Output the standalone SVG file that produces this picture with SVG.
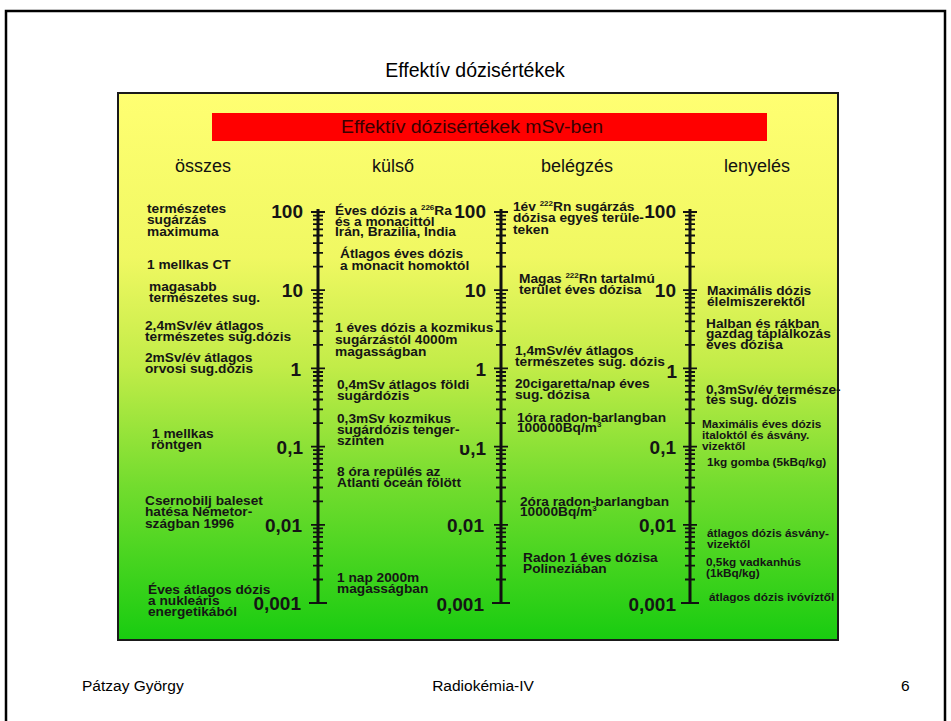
<svg xmlns="http://www.w3.org/2000/svg" xmlns:xlink="http://www.w3.org/1999/xlink" width="951" height="721" viewBox="0 0 951 721">
<style>
.t{font-family:"Liberation Sans",Arial,sans-serif;font-weight:bold;font-size:13.7px;fill:#151515}
.s{font-size:11.8px}
.n{font-family:"Liberation Sans",Arial,sans-serif;font-weight:bold;font-size:19px;fill:#151515;text-anchor:end}
.h{font-family:"Liberation Sans",Arial,sans-serif;font-size:18px;fill:#111;text-anchor:middle}
.f{font-family:"Liberation Sans",Arial,sans-serif;font-size:15.5px;fill:#000}
.sup{font-size:8px}
.ax{fill:none;stroke:#111;stroke-width:3}
.tk{fill:none;stroke:#111;stroke-width:1.8}
</style>
<defs>
<linearGradient id="bg" x1="0" y1="0" x2="0" y2="1">
<stop offset="0" stop-color="#ffff72"/>
<stop offset="0.3" stop-color="#f0f862"/>
<stop offset="0.5" stop-color="#c2ec48"/>
<stop offset="0.72" stop-color="#72dc2e"/>
<stop offset="1" stop-color="#18cc10"/>
</linearGradient>
<g id="scale">
<path class="ax" d="M0 209V603"/>
<path class="tk" d="M-7 212h14M-7 290.2h14M-7 368.4h14M-7 446.6h14M-7 524.8h14M-9 603h18"/>
<path class="tk" d="M-5 215.6h10M-5 219.6h10M-5 224.1h10M-5 229.4h10M-5 235.5h10M-5 243.1h10M-5 252.9h10M-5 266.7h10M-5 293.8h10M-5 297.8h10M-5 302.3h10M-5 307.6h10M-5 313.7h10M-5 321.3h10M-5 331.1h10M-5 344.9h10M-5 372h10M-5 376h10M-5 380.5h10M-5 385.8h10M-5 391.9h10M-5 399.5h10M-5 409.3h10M-5 423.1h10M-5 450.2h10M-5 454.2h10M-5 458.7h10M-5 464h10M-5 470.1h10M-5 477.7h10M-5 487.5h10M-5 501.3h10M-5 528.4h10M-5 532.4h10M-5 536.9h10M-5 542.2h10M-5 548.3h10M-5 555.9h10M-5 565.7h10M-5 579.5h10"/>
</g>
</defs>
<rect x="0" y="0" width="951" height="721" fill="#fff"/>
<rect id="frame" x="6" y="11" width="939" height="730" fill="none" stroke="#000" stroke-width="2.5"/>
<text id="title" class="f" x="475" y="77" text-anchor="middle" style="font-size:19.5px">Effektív dózisértékek</text>
<g id="chart">
<rect x="118" y="93" width="720" height="547" fill="url(#bg)" stroke="#1a1a1a" stroke-width="2"/>
<rect x="212" y="113" width="555" height="28" fill="#ff0000"/>
<text class="h" x="472" y="133" style="fill:#3a0000;font-size:18px" textLength="262" lengthAdjust="spacingAndGlyphs">Effektív dózisértékek mSv-ben</text>
<text class="h" x="203" y="172">összes</text>
<text class="h" x="393" y="172">külső</text>
<text class="h" x="577" y="172">belégzés</text>
<text class="h" x="757" y="172">lenyelés</text>
</g>
<g id="connectors">
<use xlink:href="#scale" href="#scale" x="318"/>
<use xlink:href="#scale" href="#scale" x="501"/>
<use xlink:href="#scale" href="#scale" x="690"/>
</g>
<g id="scale-labels">
<text class="n" x="303" y="218">100</text><text class="n" x="303" y="297">10</text><text class="n" x="301" y="376">1</text><text class="n" x="303" y="454">0,1</text><text class="n" x="302" y="532">0,01</text><text class="n" x="301" y="610">0,001</text>
<text class="n" x="486" y="218">100</text><text class="n" x="486" y="297">10</text><text class="n" x="486" y="376">1</text><text class="n" x="486" y="455">υ,1</text><text class="n" x="484" y="532">0,01</text><text class="n" x="484" y="611">0,001</text>
<text class="n" x="676" y="218">100</text><text class="n" x="676" y="297">10</text><text class="n" x="677" y="378">1</text><text class="n" x="676" y="454">0,1</text><text class="n" x="676" y="532">0,01</text><text class="n" x="676" y="611">0,001</text>
</g>
<g id="n1"><text class="t"><tspan x="147" y="212.5">természetes</tspan><tspan x="147" y="224">sugárzás</tspan><tspan x="147" y="235.5">maximuma</tspan></text></g>
<g id="n2"><text class="t" x="147" y="268.5">1 mellkas CT</text></g>
<g id="n3"><text class="t"><tspan x="149" y="290.5">magasabb</tspan><tspan x="149" y="301.5">természetes sug.</tspan></text></g>
<g id="n4"><text class="t"><tspan x="145" y="329.5">2,4mSv/év átlagos</tspan><tspan x="145" y="340.5">természetes sug.dózis</tspan></text></g>
<g id="n5"><text class="t"><tspan x="145" y="361.5">2mSv/év átlagos</tspan><tspan x="145" y="372.5">orvosi sug.dózis</tspan></text></g>
<g id="n6"><text class="t"><tspan x="152" y="437.5">1 mellkas</tspan><tspan x="151" y="448.5">röntgen</tspan></text></g>
<g id="n7"><text class="t"><tspan x="145" y="504.5">Csernobilj baleset</tspan><tspan x="145" y="516">hatésa Németor-</tspan><tspan x="145" y="527.5">szágban 1996</tspan></text></g>
<g id="n8"><text class="t"><tspan x="148" y="593.5">Éves átlagos dózis</tspan><tspan x="148" y="604.5">a nukleáris</tspan><tspan x="148" y="615.5">energetikából</tspan></text></g>
<g id="n9"><text class="t"><tspan x="335" y="214.5">Éves dózis a <tspan class="sup" dy="-5">226</tspan><tspan dy="5">Ra</tspan></tspan><tspan x="335" y="225.5">és a monacittól</tspan><tspan x="335" y="236">Irán, Brazilia, India</tspan></text></g>
<g id="n10"><text class="t"><tspan x="340" y="257.5">Átlagos éves dózis</tspan><tspan x="340" y="269.5">a monacit homoktól</tspan></text></g>
<g id="n11"><text class="t"><tspan x="335" y="331.5">1 éves dózis a kozmikus</tspan><tspan x="335" y="344">sugárzástól 4000m</tspan><tspan x="335" y="356">magasságban</tspan></text></g>
<g id="n12"><text class="t"><tspan x="337" y="388.5">0,4mSv átlagos földi</tspan><tspan x="337" y="399.5">sugárdózis</tspan></text></g>
<g id="n13"><text class="t"><tspan x="337" y="422.5">0,3mSv kozmikus</tspan><tspan x="337" y="433.5">sugárdózis tenger-</tspan><tspan x="337" y="445">szinten</tspan></text></g>
<g id="n14"><text class="t"><tspan x="337" y="475.5">8 óra repülés az</tspan><tspan x="337" y="486.5">Atlanti óceán fölött</tspan></text></g>
<g id="n15"><text class="t"><tspan x="337" y="582">1 nap 2000m</tspan><tspan x="337" y="592.5">magasságban</tspan></text></g>
<g id="n16"><text class="t"><tspan x="513" y="210.5">1év <tspan class="sup" dy="-5">222</tspan><tspan dy="5">Rn sugárzás</tspan></tspan><tspan x="513" y="222">dózisa egyes terüle-</tspan><tspan x="513" y="233.5">teken</tspan></text></g>
<g id="n17"><text class="t"><tspan x="519" y="282.5">Magas <tspan class="sup" dy="-5">222</tspan><tspan dy="5">Rn tartalmú</tspan></tspan><tspan x="519" y="293.5">terület éves dózisa</tspan></text></g>
<g id="n18"><text class="t"><tspan x="515" y="354.5">1,4mSv/év átlagos</tspan><tspan x="515" y="366">természetes sug. dózis</tspan></text></g>
<g id="n19"><text class="t"><tspan x="515" y="387.5">20cigaretta/nap éves</tspan><tspan x="515" y="398.5">sug. dózisa</tspan></text></g>
<g id="n20"><text class="t"><tspan x="517" y="421.5">1óra radon-barlangban</tspan><tspan x="517" y="431.5">100000Bq/m<tspan class="sup" dy="-5">3</tspan></tspan></text></g>
<g id="n21"><text class="t"><tspan x="520" y="505.5">2óra radon-barlangban</tspan><tspan x="520" y="516">10000Bq/m<tspan class="sup" dy="-5">3</tspan></tspan></text></g>
<g id="n22"><text class="t"><tspan x="523" y="561.5">Radon 1 éves dózisa</tspan><tspan x="523" y="572.5">Polineziában</tspan></text></g>
<g id="n23"><text class="t"><tspan x="707" y="294.5">Maximális dózis</tspan><tspan x="707" y="305.5">élelmiszerektől</tspan></text></g>
<g id="n24"><text class="t"><tspan x="706" y="327.5">Halban és rákban</tspan><tspan x="706" y="337.5">gazdag táplálkozás</tspan><tspan x="706" y="348.5">éves dózisa</tspan></text></g>
<g id="n25"><text class="t"><tspan x="706" y="393.5">0,3mSv/év természe-</tspan><tspan x="706" y="403.5">tes sug. dózis</tspan></text></g>
<g id="n26"><text class="t s"><tspan x="702" y="428">Maximális éves dózis</tspan><tspan x="702" y="439">italoktól és ásvány.</tspan><tspan x="702" y="450">vizektől</tspan></text></g>
<g id="n27"><text class="t s" x="707" y="466">1kg gomba (5kBq/kg)</text></g>
<g id="n28"><text class="t s"><tspan x="707" y="537">átlagos dózis ásvány-</tspan><tspan x="707" y="548">vizektől</tspan></text></g>
<g id="n29"><text class="t s"><tspan x="706" y="566">0,5kg vadkanhús</tspan><tspan x="706" y="577">(1kBq/kg)</tspan></text></g>
<g id="n30"><text class="t s" x="709" y="601">átlagos dózis ivóvíztől</text></g>
<g id="footer">
<text class="f" x="82" y="691">Pátzay György</text>
<text class="f" x="483" y="691" text-anchor="middle">Radiokémia-IV</text>
<text class="f" x="901" y="691">6</text>
</g>
</svg>
